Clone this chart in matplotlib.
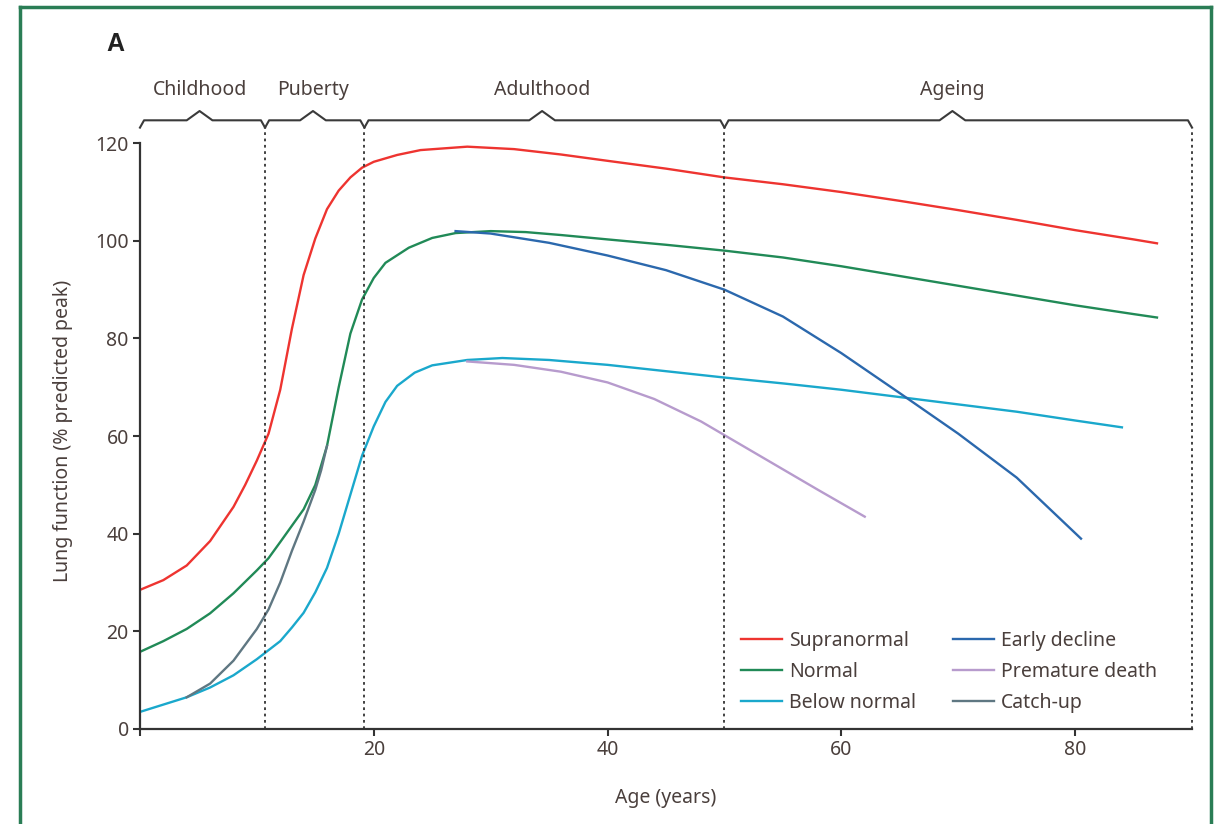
import matplotlib.pyplot as plt
from matplotlib.lines import Line2D

plt.rcParams['font.family'] = ['Noto Sans', 'DejaVu Sans']

# lung function trajectories (% predicted peak)
supra_age = [0, 2, 4, 6, 8, 9, 10, 11, 12, 13, 14, 15, 16, 17, 18, 19, 20, 22, 24, 28, 32, 36,
             40, 45, 50, 55, 60, 65, 70, 75, 80, 85, 87]
supra_val = [28.5, 30.5, 33.5, 38.5, 45.5, 50, 55, 60.5, 69.5, 82, 93, 100.5, 106.5, 110.3,
             113, 115, 116.2, 117.6, 118.6, 119.3, 118.8, 117.7, 116.4, 114.8, 113, 111.6,
             110, 108.2, 106.3, 104.3, 102.2, 100.3, 99.5]

normal_age = [0, 2, 4, 6, 8, 10, 11, 12, 14, 15, 16, 17, 18, 19, 20, 21, 23, 25, 27, 30, 33,
              36, 40, 45, 50, 55, 60, 65, 70, 75, 80, 85, 87]
normal_val = [15.8, 18, 20.5, 23.7, 27.8, 32.5, 35, 38.3, 45, 50, 58, 70, 81, 88, 92.4,
              95.5, 98.6, 100.6, 101.6, 102, 101.8, 101.2, 100.3, 99.2, 98, 96.6, 94.8, 92.8,
              90.8, 88.8, 86.8, 85, 84.3]

below_age = [0, 2, 4, 6, 8, 10, 12, 13, 14, 15, 16, 17, 18, 19, 20, 21, 22, 23.5, 25, 28, 31,
             35, 40, 45, 50, 55, 60, 65, 70, 75, 80, 84]
below_val = [3.5, 5, 6.5, 8.5, 11, 14.3, 18, 20.8, 23.8, 28, 33, 40, 48, 56, 62, 67, 70.3,
             73, 74.5, 75.6, 76, 75.6, 74.6, 73.3, 72, 70.8, 69.5, 68, 66.5, 65, 63.2, 61.8]

early_age = [27, 30, 35, 40, 45, 50, 55, 60, 65, 70, 75, 80.5]
early_val = [102, 101.5, 99.6, 97, 94, 90, 84.5, 77, 68.8, 60.5, 51.5, 39]

death_age = [28, 32, 36, 40, 44, 48, 50, 54, 58, 62]
death_val = [75.3, 74.6, 73.2, 71, 67.6, 63, 60.2, 54.6, 49, 43.5]

catch_age = [4, 6, 8, 10, 11, 12, 13, 14, 15, 15.5, 16]
catch_val = [6.5, 9.3, 14, 20.5, 24.5, 30, 36.5, 42.5, 49, 53, 58]

# life stages
stage_names = ['Childhood', 'Puberty', 'Adulthood', 'Ageing']
stage_edges = [0, 10.7, 19.2, 50, 90]
stage_peaks = [5.1, 14.8, 34.4, 69.5]

text_col = '#4a3f3c'
axis_col = '#333333'
fs = 14

fig = plt.figure(figsize=(12.17, 8.24), dpi=100)
ax = fig.add_axes([0.115, 0.1153, 0.8645, 0.7227])

ax.plot(supra_age, supra_val, color='#ee3430', lw=1.7, label='Supranormal')
ax.plot(normal_age, normal_val, color='#218a57', lw=1.7, label='Normal')
ax.plot(below_age, below_val, color='#1aa8cc', lw=1.7, label='Below normal')
ax.plot(early_age, early_val, color='#2b68ad', lw=1.7, label='Early decline')
ax.plot(death_age, death_val, color='#b79bcd', lw=1.7, label='Premature death')
ax.plot(catch_age, catch_val, color='#5f7782', lw=1.7, label='Catch-up')

# dotted stage boundaries
for x in stage_edges[1:]:
    ax.plot([x, x], [0, 122.5], color='#333333', lw=1.3, ls=(0, (1.5, 2)), clip_on=False)

# curly brackets above the plot
base, peak, hook = 124.7, 126.6, 123.2
for i, name in enumerate(stage_names):
    x0, x1 = stage_edges[i], stage_edges[i + 1]
    xm = stage_peaks[i]
    xs = [x0, x0 + 0.35, xm - 1.1, xm, xm + 1.1, x1 - 0.35, x1]
    ys = [hook, base, base, peak, base, base, hook]
    ax.plot(xs, ys, color='#3a3a3a', lw=1.5, clip_on=False, solid_joinstyle='round')
    ax.text(xm, 130.9, name, ha='center', va='center', fontsize=fs, color=text_col)

ax.set_xlim(0, 90)
ax.set_ylim(0, 122)
ax.set_xticks([0, 20, 40, 60, 80])
ax.set_xticklabels(['', '20', '40', '60', '80'])
ax.set_yticks([0, 20, 40, 60, 80, 100, 120])

for s in ['top', 'right']:
    ax.spines[s].set_visible(False)
for s in ['left', 'bottom']:
    ax.spines[s].set_color(axis_col)
    ax.spines[s].set_linewidth(1.6)
ax.spines['left'].set_bounds(0, 120)
ax.tick_params(colors=axis_col, labelcolor=text_col, labelsize=fs, width=1.5, length=5,
               pad=3)

ax.set_xlabel('Age (years)', fontsize=fs, color=text_col, labelpad=20)
ax.set_ylabel('Lung function (% predicted peak)', fontsize=fs, color=text_col, labelpad=16)

leg = ax.legend(ncol=2, loc='lower right', bbox_to_anchor=(0.983, -0.002), frameon=False,
                fontsize=fs, handlelength=2.1, columnspacing=1.9, labelspacing=0.55,
                handletextpad=0.35)
for t in leg.get_texts():
    t.set_color(text_col)

fig.text(0.095, 0.946, 'A', fontsize=18, fontweight='bold', color='#222222',
         family='Liberation Sans', ha='center', va='center')

# green frame around the panel
frame_col = '#2a7d55'
fl, fr, ft = 20 / 1217, 1211 / 1217, 1 - 7 / 824
for xs, ys in [([fl, fl], [0, ft]), ([fl, fr], [ft, ft]), ([fr, fr], [ft, 0])]:
    fig.add_artist(Line2D(xs, ys, color=frame_col, lw=2.5, transform=fig.transFigure))

fig.savefig('out.png', dpi=100)
